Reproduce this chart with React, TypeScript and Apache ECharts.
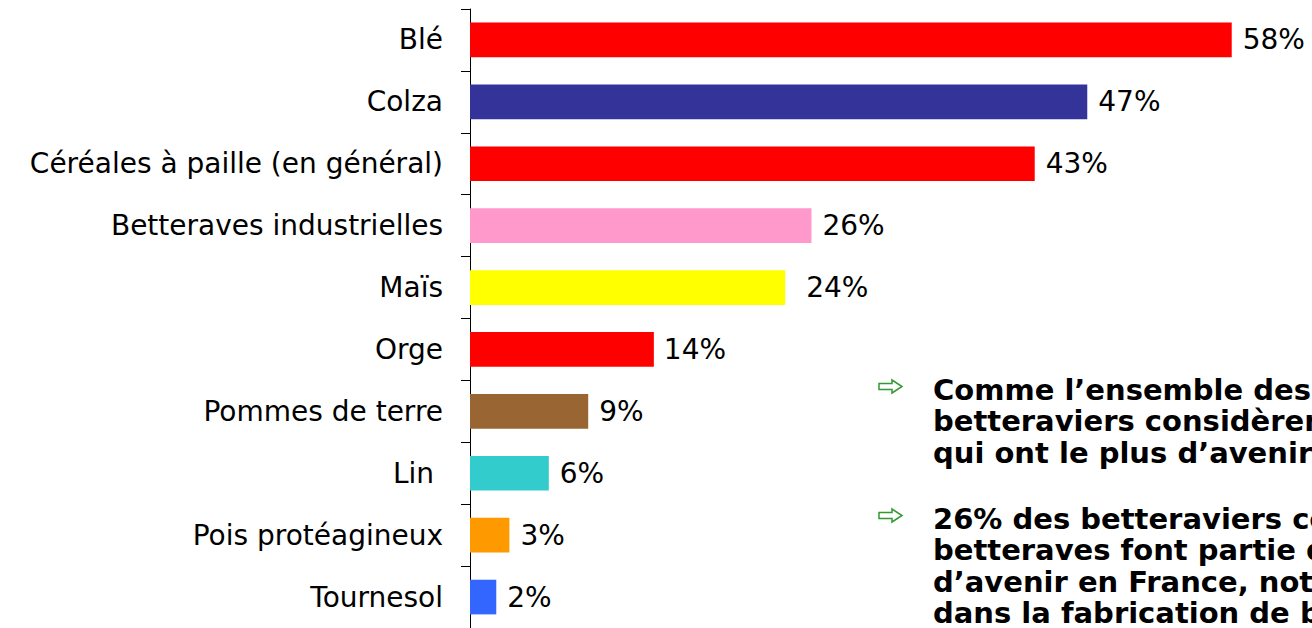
import React, { useEffect, useRef } from "react";
import * as echarts from "echarts";

const categories = [
  "Blé",
  "Colza",
  "Céréales à paille (en général)",
  "Betteraves industrielles",
  "Maïs",
  "Orge",
  "Pommes de terre",
  "Lin ",
  "Pois protéagineux",
  "Tournesol",
];
const values = [58, 47, 43, 26, 24, 14, 9, 6, 3, 2];
const colors = [
  "#FF0000",
  "#333399",
  "#FF0000",
  "#FF99CC",
  "#FFFF00",
  "#FF0000",
  "#996633",
  "#33CCCC",
  "#FF9900",
  "#3366FF",
];
const labelGaps = [11, 11, 11, 11, 21, 10, 11, 11, 11, 11];

const noteLines1 = [
  "Comme l’ensemble des",
  "betteraviers considèrent",
  "qui ont le plus d’avenir",
];
const noteLines2 = [
  "26% des betteraviers considèrent",
  "betteraves font partie des",
  "d’avenir en France, notamment",
  "dans la fabrication de biocarburants",
];

const FONT = "'DejaVu Sans', sans-serif";

export default function App() {
  const ref = useRef<HTMLDivElement>(null);
  useEffect(() => {
    document.body.style.margin = "0";
    const chart = echarts.init(ref.current!, undefined, { renderer: "svg" });
    const graphics: any[] = [];
    const addBlock = (lines: string[], top: number, arrowTop: number) => {
      const ax = 879;
      const ay = arrowTop;
      graphics.push({
        type: "polygon",
        shape: {
          points: [
            [ax, ay + 3.5],
            [ax + 13, ay + 3.5],
            [ax + 13, ay],
            [ax + 23, ay + 6.5],
            [ax + 13, ay + 13],
            [ax + 13, ay + 9.5],
            [ax, ay + 9.5],
          ],
        },
        style: { fill: "none", stroke: "#339933", lineWidth: 1.5 },
      });
      graphics.push({
        type: "text",
        left: 933,
        top,
        style: {
          text: lines.join("\n"),
          fill: "#000",
          font: `bold 29px 'DejaVu Sans', sans-serif`,
          lineHeight: 31.5,
        },
      });
    };
    addBlock(noteLines1, 374, 380);
    addBlock(noteLines2, 503, 509);

    chart.setOption({
      animation: false,
      grid: { left: 470, top: 9, width: 788, height: 620, containLabel: false },
      xAxis: {
        type: "value",
        min: 0,
        max: 60,
        show: false,
      },
      yAxis: {
        type: "category",
        data: categories,
        inverse: true,
        axisLine: { show: true, lineStyle: { color: "#000", width: 1 } },
        axisTick: { show: true, length: 9, lineStyle: { color: "#000" } },
        axisLabel: { color: "#000", fontFamily: FONT, fontSize: 28, margin: 27 },
        splitLine: { show: false },
      },
      series: [
        {
          type: "bar",
          barCategoryGap: "44%",
          data: values.map((v, i) => ({
            value: v,
            itemStyle: { color: colors[i] },
            label: { distance: labelGaps[i] },
          })),
          label: {
            show: true,
            position: "right",
            formatter: "{c}%",
            color: "#000",
            fontFamily: FONT,
            fontSize: 28,
          },
        },
      ],
      graphic: graphics,
    });
    return () => chart.dispose();
  }, []);
  return <div ref={ref} style={{ width: 1312, height: 628 }} />;
}
